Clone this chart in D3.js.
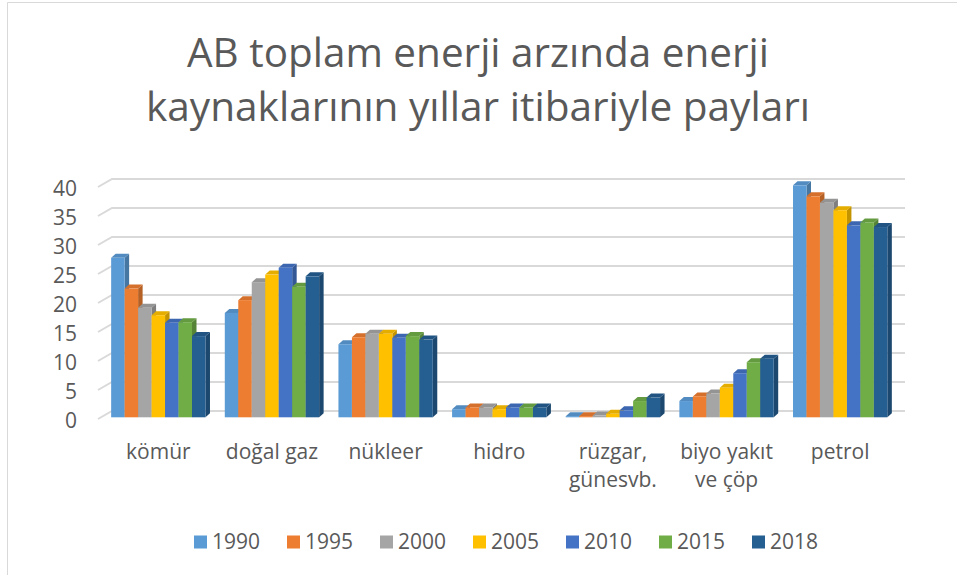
<!DOCTYPE html>
<html lang="tr">
<head>
<meta charset="utf-8">
<title>AB toplam enerji arzı</title>
<script src="https://cdn.jsdelivr.net/npm/d3@7/dist/d3.min.js"></script>
<style>
  body { margin: 0; background: #fff; }
  text { font-family: "Open Sans", sans-serif; fill: #595959; }
</style>
</head>
<body>
<svg id="chart" width="957" height="575"></svg>
<script>
// --- data ---
var categories = ["kömür", "doğal gaz", "nükleer", "hidro", "rüzgar,\ngünesvb.", "biyo yakıt\nve çöp", "petrol"];
var years = ["1990", "1995", "2000", "2005", "2010", "2015", "2018"];
var v1990 = [27.5, 18.0, 12.6, 1.4, 0.2, 2.8, 40.0];
var v1995 = [22.2, 20.2, 13.8, 1.7, 0.2, 3.6, 38.1];
var v2000 = [18.9, 23.3, 14.4, 1.7, 0.3, 4.1, 37.0];
var v2005 = [17.6, 24.6, 14.4, 1.4, 0.6, 5.1, 35.7];
var v2010 = [16.3, 25.8, 13.7, 1.7, 1.2, 7.6, 33.1];
var v2015 = [16.4, 22.5, 14.0, 1.7, 2.8, 9.5, 33.6];
var v2018 = [14.0, 24.3, 13.4, 1.7, 3.4, 10.1, 32.8];
var yTicks = [0, 5, 10, 15, 20, 25, 30, 35, 40];
var titleLines = ["AB toplam enerji arzında enerji", "kaynaklarının yıllar itibariyle payları"];

var series = [v1990, v1995, v2000, v2005, v2010, v2015, v2018];
var colors = ["#5B9BD5", "#ED7D31", "#A5A5A5", "#FFC000", "#4472C4", "#70AD47", "#255E91"];

var svg = d3.select("#chart");

// chart frame (only left/top edges show in the crop)
svg.append("path")
  .attr("d", "M7.5,575 V2.5 H957")
  .attr("fill", "none")
  .attr("stroke", "#d9d9d9")
  .attr("stroke-width", 1);

// --- title ---
// Calibri is narrower than Open Sans, so squeeze each line to the width seen
var titleWidths = [582, 664];
svg.append("g").selectAll("text")
  .data(titleLines)
  .enter().append("text")
  .attr("x", 478)
  .attr("y", function(d, i) { return 67 + i * 54; })
  .attr("text-anchor", "middle")
  .attr("textLength", function(d, i) { return titleWidths[i]; })
  .attr("lengthAdjust", "spacingAndGlyphs")
  .style("font-size", "41px")
  .text(function(d) { return d; });

// --- scales ---
var depthX = 14, depthY = 8;          // floor depth of the 3d walls
var yFront = d3.scaleLinear().domain([0, 40]).range([419, 187]);
var yBar = d3.scaleLinear().domain([0, 40]).range([417.3, 185.3]);
var x0 = d3.scaleBand().domain(categories).range([101.5, 897]).paddingInner(0.17).paddingOuter(0.085);
var x1 = d3.scaleBand().domain(years).range([0, x0.bandwidth()]);

// --- gridlines (front edge, diagonal, back wall) ---
svg.append("g").selectAll("path")
  .data(yTicks)
  .enter().append("path")
  .attr("d", function(d) {
    var yf = yFront(d);
    return "M98," + yf + " L" + (98 + depthX) + "," + (yf - depthY) + " H905";
  })
  .attr("fill", "none")
  .attr("stroke", "#d9d9d9")
  .attr("stroke-width", 2);

// --- y axis labels ---
var yAxis = svg.append("g")
  .attr("transform", "translate(77,2)")
  .call(d3.axisLeft(yFront).tickValues(yTicks).tickSize(0).tickPadding(0));
yAxis.select(".domain").remove();
yAxis.selectAll("text")
  .attr("fill", "#595959")
  .style("font-family", "\"Open Sans\", sans-serif")
  .style("font-size", "21px");

// --- 3d bars ---
var bw = x1.bandwidth(), bdx = 4.5, bdy = 4;
var bars = [];
categories.forEach(function(c, ci) {
  years.forEach(function(y, yi) {
    bars.push({ cat: c, year: y, yi: yi, value: series[yi][ci] });
  });
});

var bar = svg.append("g").selectAll("g")
  .data(bars)
  .enter().append("g")
  .attr("transform", function(d) { return "translate(" + (x0(d.cat) + x1(d.year)) + ",0)"; });

// side face
bar.append("path")
  .attr("d", function(d) {
    var top = yBar(d.value), bot = yBar(0);
    return "M" + bw + "," + top + " L" + (bw + bdx) + "," + (top - bdy) +
      " L" + (bw + bdx) + "," + (bot - bdy) + " L" + bw + "," + bot + "Z";
  })
  .attr("fill", function(d) { return d3.color(colors[d.yi]).darker(0.75); });

// top face
bar.append("path")
  .attr("d", function(d) {
    var top = yBar(d.value);
    return "M0," + top + " L" + bdx + "," + (top - bdy) +
      " L" + (bw + bdx) + "," + (top - bdy) + " L" + bw + "," + top + "Z";
  })
  .attr("fill", function(d) { return d3.color(colors[d.yi]).darker(0.3); });

// front face
bar.append("rect")
  .attr("x", 0)
  .attr("y", function(d) { return yBar(d.value); })
  .attr("width", bw)
  .attr("height", function(d) { return yBar(0) - yBar(d.value); })
  .attr("fill", function(d) { return colors[d.yi]; });

// --- category labels ---
var catLabel = svg.append("g").selectAll("text")
  .data(categories)
  .enter().append("text")
  .attr("x", function(d) { return x0(d) + x0.bandwidth() / 2; })
  .attr("y", 459)
  .attr("text-anchor", "middle")
  .style("font-size", "21px");
catLabel.selectAll("tspan")
  .data(function(d) { return d.split("\n"); })
  .enter().append("tspan")
  .attr("x", function() { var p = this.parentNode; return p.getAttribute("x"); })
  .attr("dy", function(d, i) { return i === 0 ? 0 : 28; })
  .text(function(d) { return d; });

// --- legend ---
var legend = svg.append("g").selectAll("g")
  .data(years)
  .enter().append("g")
  .attr("transform", function(d, i) { return "translate(" + (194 + i * 93) + ",542)"; });
legend.append("rect")
  .attr("x", 0).attr("y", -6.5)
  .attr("width", 13).attr("height", 13)
  .attr("fill", function(d, i) { return colors[i]; });
legend.append("text")
  .attr("x", 18)
  .attr("y", 0)
  .attr("dy", "0.35em")
  .style("font-size", "21px")
  .text(function(d) { return d; });
</script>
</body>
</html>
